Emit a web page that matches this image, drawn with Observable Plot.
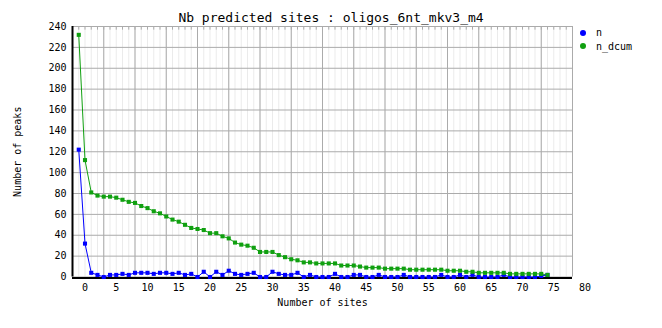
<!DOCTYPE html>
<html>
<head>
<meta charset="utf-8">
<script src="https://cdn.jsdelivr.net/npm/d3@7"></script>
<script src="https://cdn.jsdelivr.net/npm/@observablehq/plot@0.6"></script>
<style>
  html, body { margin: 0; padding: 0; background: #fff; }
  #wrap { position: relative; width: 662px; height: 328px; font-family: "DejaVu Sans Mono", monospace; }
  #legend { position: absolute; left: 580px; top: 26px; font-size: 10px; line-height: 13.5px; color: #000; }
  #legend .row { display: flex; align-items: center; white-space: pre; }
  #legend .sw { display: inline-block; width: 6px; height: 6px; border-radius: 50%; margin-right: 10px; }
</style>
</head>
<body>
<div id="wrap"></div>
<script>
const title = "Nb predicted sites : oligos_6nt_mkv3_m4";
const xLabel = "Number of sites";
const yLabel = "Number of peaks";
const seriesNames = ["n", "n_dcum"];
const seriesColors = ["#0000ff", "#10a010"];

const sites = [-1, 0, 1, 2, 3, 4, 5, 6, 7, 8, 9, 10, 11, 12, 13, 14, 15, 16, 17, 18, 19,
  20, 21, 22, 23, 24, 25, 26, 27, 28, 29, 30, 31, 32, 33, 34, 35, 36, 37, 38, 39,
  40, 41, 42, 43, 44, 45, 46, 47, 48, 49, 50, 51, 52, 53, 54, 55, 56, 57, 58, 59,
  60, 61, 62, 63, 64, 65, 66, 67, 68, 69, 70, 71, 72, 73, 74];

const nVals = [122, 32, 4, 2, 0, 2, 2, 3, 2, 4,
  4, 4, 3, 4, 4, 3, 4, 2, 3, 0,
  5, 0, 5, 2, 6, 3, 2, 3, 4, 0,
  0, 5, 3, 2, 2, 4, 0, 2, 0, 0,
  0, 3, 0, 0, 2, 2, 0, 0, 2, 0,
  0, 0, 2, 0, 0, 0, 0, 0, 2, 0,
  0, 2, 0, 2, 0, 0, 0, 0, 2, 0,
  0, 0, 0, 0, 1, 2];

const nDcumVals = [232, 112, 81, 78, 77, 77, 76, 74, 72, 71,
  68, 66, 63, 61, 58, 55, 53, 50, 47, 46,
  45, 42, 42, 39, 37, 33, 31, 30, 28, 24,
  24, 24, 21, 19, 17, 16, 14, 14, 13, 13,
  13, 13, 11, 11, 11, 10, 9, 9, 9, 8,
  8, 8, 8, 7, 7, 7, 7, 7, 7, 6,
  6, 6, 5, 5, 4, 4, 4, 4, 4, 3,
  3, 3, 3, 3, 3, 2];

const xTickLabels = [0, 5, 10, 15, 20, 25, 30, 35, 40, 45, 50, 55, 60, 65, 70, 75, 80];
const yTickLabels = [0, 20, 40, 60, 80, 100, 120, 140, 160, 180, 200, 220, 240];
const xDomain = [-2, 78];
const yDomain = [0, 240];

const rows = sites.flatMap((s, i) => [
  {site: s, value: nVals[i], series: seriesNames[0]},
  {site: s, value: nDcumVals[i], series: seriesNames[1]}
]);

const minorX = d3.range(xDomain[0], xDomain[1] + 1, 1);
const majorX = d3.range(xDomain[0], xDomain[1] + 1, 5);

const chart = Plot.plot({
  width: 662,
  height: 328,
  marginLeft: 72,
  marginRight: 90,
  marginTop: 26,
  marginBottom: 51.5,
  style: {background: "#fff", fontFamily: "DejaVu Sans Mono, monospace", color: "#000"},
  x: {domain: xDomain, label: null},
  y: {domain: yDomain, label: null},
  color: {domain: seriesNames, range: seriesColors},
  marks: [
    Plot.gridX(minorX, {stroke: "#ebebeb", strokeOpacity: 1}),
    Plot.gridX(majorX, {stroke: "#ababab", strokeOpacity: 1}),
    Plot.gridY(yTickLabels, {stroke: "#ababab", strokeOpacity: 1}),
    Plot.ruleX(minorX, {y1: yDomain[1], y2: 236.5, stroke: "#ababab"}),
    Plot.ruleX([xDomain[0]], {stroke: "#000", strokeWidth: 2}),
    Plot.ruleY([yDomain[0]], {stroke: "#000", strokeWidth: 2, dy: 1}),
    Plot.axisX(xTickLabels, {tickSize: 0, tickPadding: 7, fontSize: 10, label: null}),
    Plot.axisY(yTickLabels, {tickSize: 0, tickPadding: 6, fontSize: 10, label: null}),
    Plot.line(rows, {x: "site", y: "value", z: "series", stroke: "series", strokeWidth: 1}),
    Plot.dot(rows, {x: "site", y: "value", fill: "series", symbol: "square", r: 2.3}),
    Plot.text([title], {frameAnchor: "top", text: d => d, dx: 8.5, dy: -9, fontSize: 13, lineAnchor: "middle", fill: "#000"}),
    Plot.text([xLabel], {frameAnchor: "bottom", text: d => d, dy: 26, fontSize: 10, lineAnchor: "middle", fill: "#000"}),
    Plot.text([yLabel], {frameAnchor: "left", text: d => d, dx: -55, rotate: -90, fontSize: 10, lineAnchor: "middle", textAnchor: "middle", fill: "#000"})
  ]
});

const wrap = document.getElementById("wrap");
wrap.appendChild(chart);

const legend = document.createElement("div");
legend.id = "legend";
seriesNames.forEach((name, i) => {
  const row = document.createElement("div");
  row.className = "row";
  const sw = document.createElement("span");
  sw.className = "sw";
  sw.style.background = seriesColors[i];
  row.appendChild(sw);
  row.appendChild(document.createTextNode(name));
  legend.appendChild(row);
});
wrap.appendChild(legend);
</script>
</body>
</html>
